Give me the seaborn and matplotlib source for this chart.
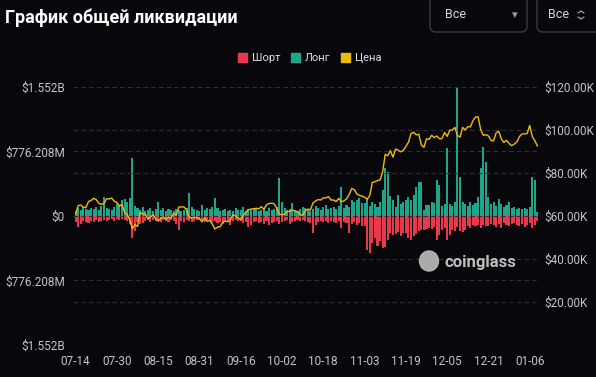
import numpy as np
import pandas as pd
import matplotlib
matplotlib.use('Agg')
import matplotlib.pyplot as plt
import seaborn as sns
from matplotlib.patches import FancyBboxPatch, Patch, Ellipse
from matplotlib.lines import Line2D
from matplotlib.transforms import IdentityTransform

# daily liquidations, $M (long up, short down), 2024-07-14 .. 2025-01-09
long_m = [60, 96, 72, 108, 84, 72, 96, 84, 108, 72, 120, 228, 96, 84, 72, 108,
          144, 120, 192, 204, 168, 216, 700, 120, 96, 72, 108, 60, 72, 96, 60, 84,
          168, 72, 96, 60, 84, 72, 60, 84, 72, 60, 72, 96, 276, 108, 84, 72,
          60, 132, 72, 96, 84, 108, 216, 96, 60, 72, 84, 60, 72, 60, 96, 72,
          72, 108, 60, 84, 72, 96, 84, 60, 72, 84, 60, 96, 72, 84, 108, 456,
          168, 96, 72, 84, 156, 72, 60, 84, 108, 96, 72, 60, 84, 120, 96, 72,
          108, 132, 84, 96, 108, 84, 120, 348, 96, 132, 108, 192, 168, 192, 216, 156,
          156, 216, 120, 168, 144, 108, 168, 312, 576, 528, 240, 192, 108, 252, 144, 168,
          192, 228, 192, 252, 348, 408, 408, 72, 132, 132, 168, 156, 432, 372, 120, 144,
          816, 144, 120, 168, 1552.416, 468, 168, 144, 120, 168, 132, 156, 228, 576, 828, 648,
          228, 144, 168, 120, 204, 144, 108, 132, 168, 96, 108, 84, 96, 84, 96, 84, 108, 468, 432, 48]

short_m = [72, 132, 96, 60, 72, 84, 60, 72, 48, 72, 60, 48, 60, 48, 36, 60,
           36, 48, 36, 48, 60, 96, 264, 180, 72, 96, 84, 60, 48, 72, 48, 60,
           60, 72, 48, 60, 72, 48, 60, 96, 168, 60, 72, 48, 60, 72, 60, 48,
           48, 60, 72, 48, 60, 72, 60, 84, 72, 96, 60, 72, 108, 60, 48, 60,
           60, 84, 72, 132, 108, 72, 60, 84, 72, 96, 60, 108, 84, 72, 60, 96,
           72, 60, 48, 96, 72, 60, 48, 60, 48, 60, 72, 84, 204, 108, 72, 60,
           72, 60, 84, 60, 72, 84, 60, 144, 72, 84, 204, 96, 72, 108, 84, 120,
           120, 408, 444, 324, 264, 360, 300, 384, 372, 288, 204, 228, 216, 192, 240, 204,
           204, 264, 288, 240, 216, 180, 168, 168, 156, 144, 156, 132, 288, 228, 168, 144,
           288, 228, 168, 180, 132, 180, 192, 168, 120, 144, 108, 120, 108, 144, 108, 120,
           120, 96, 108, 132, 96, 144, 84, 108, 120, 96, 84, 108, 120, 96, 132, 108, 84, 144, 108, 60]

# BTC price, $K
price_k = [60.8, 64.8, 65.1, 64.1, 63.9, 66.7, 67.2, 68.2, 67.6, 65.9, 65.4, 65.8, 68.0, 67.9, 68.3, 66.8, 66.2, 64.6,
           65.4, 61.5, 60.7, 58.1, 54.0, 56.0, 55.1, 61.7, 60.9, 60.9, 58.7, 59.4, 60.6, 58.7, 57.6, 58.9, 59.5, 58.4,
           59.5, 59.0, 61.2, 60.4, 64.1, 64.2, 64.2, 62.8, 59.4, 59.0, 59.4, 59.1, 58.9,
           57.3, 59.1, 57.5, 57.9, 56.2, 53.9, 54.8, 55.0, 57.0, 57.6, 57.3, 58.1, 60.5, 60.0, 59.2, 58.2, 60.3, 61.8,
           62.9, 63.2, 63.3, 63.6, 63.3, 64.3, 63.1, 65.2, 65.8, 65.9, 65.6, 63.3,
           60.8, 60.6, 60.8, 62.1, 62.1, 62.8, 62.2, 62.1, 60.6, 60.3, 62.4, 63.2, 62.8, 66.0, 67.0, 67.6, 67.4, 68.4,
           68.4, 69.0, 67.4, 67.4, 66.7, 68.2, 66.6, 67.0, 67.9, 69.9, 72.7, 72.3, 70.2,
           69.5, 69.3, 68.7, 67.8, 69.4, 75.6, 75.9, 76.5, 76.7, 80.5, 88.7, 88.0, 90.4, 87.3, 91.1, 90.6, 89.8, 90.5,
           92.3, 94.3, 98.3, 98.9, 97.7, 98.0, 93.0, 91.9, 95.9, 95.6, 97.5, 96.4,
           97.2, 95.9, 96.0, 98.8, 97.0, 99.9, 99.9, 101.2, 97.4, 96.7, 101.2, 100.0, 101.5, 101.4, 104.3, 106.0,
           106.1, 100.2, 97.5, 97.8, 97.2, 95.2, 94.9, 98.7, 99.4, 95.8, 94.2, 95.2, 93.7, 92.7, 93.4,
           94.4, 96.9, 98.1, 98.2, 98.3, 102.1, 96.9, 95.0, 92.5]

dates = pd.date_range('2024-07-14', periods=len(price_k), freq='D')
legend_labels = ['Шорт', 'Лонг', 'Цена']
title = 'График общей ликвидации'

df = pd.DataFrame({'i': np.arange(len(dates)),
                   'long': np.array(long_m) * 1e6,
                   'short': -np.array(short_m) * 1e6,
                   'price': np.array(price_k) * 1e3})

bg = '#08080c'
red = '#e8394c'
teal = '#1fa58a'
yellow = '#f0b90b'
txt = '#c4c4c8'
grid = '#2e2e34'

sns.set_theme(style='dark')
plt.rcParams['font.family'] = ['Roboto', 'DejaVu Sans']

fig = plt.figure(figsize=(5.96, 3.77), dpi=100, facecolor=bg)
ax = fig.add_axes([0.1225, 0.085, 0.7836, 0.6844])
ax.set_facecolor(bg)

sns.barplot(data=df, x='i', y='long', color=teal, width=0.8, errorbar=None,
            native_scale=True, linewidth=0, saturation=1, ax=ax)
sns.barplot(data=df, x='i', y='short', color=red, width=0.8, errorbar=None,
            native_scale=True, linewidth=0, saturation=1, ax=ax)

m = df['long'].max()
ax.set_ylim(-m, m)
ax.set_xlim(-1, len(df))
yt = [-m, -m / 2, 0, m / 2, m]

def fmt(v):
    v = abs(v)
    if v == 0:
        return '$0'
    if v >= 1e9:
        return f'${v / 1e9:.3f}B'
    return f'${v / 1e6:.3f}M'

ax.set_yticks(yt)
ax.set_yticklabels([fmt(v) for v in yt])
xt = list(range(0, len(df), 16))
ax.set_xticks(xt)
ax.set_xticklabels([dates[k].strftime('%m-%d') for k in xt])
ax.set_xlabel('')
ax.set_ylabel('')
ax.tick_params(axis='y', length=0, pad=6, labelsize=8.5, labelcolor=txt)
ax.tick_params(axis='x', length=0, pad=7, labelsize=8.5, labelcolor=txt)
ax.yaxis.grid(True, color=grid, linestyle=(0, (4, 3)), linewidth=0.8)
ax.xaxis.grid(False)

ax2 = ax.twinx()
sns.lineplot(data=df, x='i', y='price', color=yellow, linewidth=1.0, ax=ax2)
ax2.set_ylim(0, 120000)
rt = list(range(0, 120001, 20000))
ax2.set_yticks(rt)
ax2.set_yticklabels([''] + [f'${v / 1000:.2f}K' for v in rt[1:]])
ax2.set_xlabel('')
ax2.set_ylabel('')
ax2.tick_params(axis='y', length=0, pad=3, labelsize=8.5, labelcolor=txt)
ax2.yaxis.grid(True, color=grid, linestyle=(0, (4, 3)), linewidth=0.8)
ax2.patch.set_visible(False)
for a in (ax, ax2):
    for s in a.spines.values():
        s.set_visible(False)
ax.set_axisbelow(True)

# title
fig.text(0.008, 0.952, title, fontsize=13, weight='bold', color='white', va='center')

# legend
handles = [Patch(color=red), Patch(color=teal), Patch(color=yellow)]
fig.legend(handles, legend_labels, loc='center', bbox_to_anchor=(0.52, 0.846), ncol=3,
           frameon=False, fontsize=8, labelcolor='#e0e0e0', handlelength=0.8, handleheight=0.8,
           handletextpad=0.4, columnspacing=1.0)

# dropdown boxes
idt = IdentityTransform()
for x0, w in [(430, 97), (537, 70)]:
    fig.add_artist(FancyBboxPatch((x0, 345), w, 45, boxstyle='round,pad=0,rounding_size=6',
                                  transform=idt, fc='none', ec='#3a3a40', lw=1))
fig.text(445 / 596, 362 / 377, 'Все', fontsize=9, color='#d8d8d8', va='center')
fig.text(512 / 596, 362 / 377, '▾', fontsize=8, color='#a0a0a0', va='center', family='DejaVu Sans')
fig.text(548 / 596, 362 / 377, 'Все', fontsize=9, color='#d8d8d8', va='center')
for yy, d in [(366, 1), (358, -1)]:
    fig.add_artist(Line2D([578, 581, 584], [yy - 2 * d, yy, yy - 2 * d], transform=idt,
                          color='#a0a0a0', lw=0.9))

# watermark
fig.add_artist(Ellipse((429, 377 - 261), 19, 20, transform=idt, color='#bdbdbd', alpha=0.9))
fig.text(445 / 596, 1 - 262 / 377, 'coinglass', fontsize=12, weight='bold',
         color='#c8c8c8', va='center', alpha=0.95)

fig.savefig('out.png', dpi=100, facecolor=bg)
